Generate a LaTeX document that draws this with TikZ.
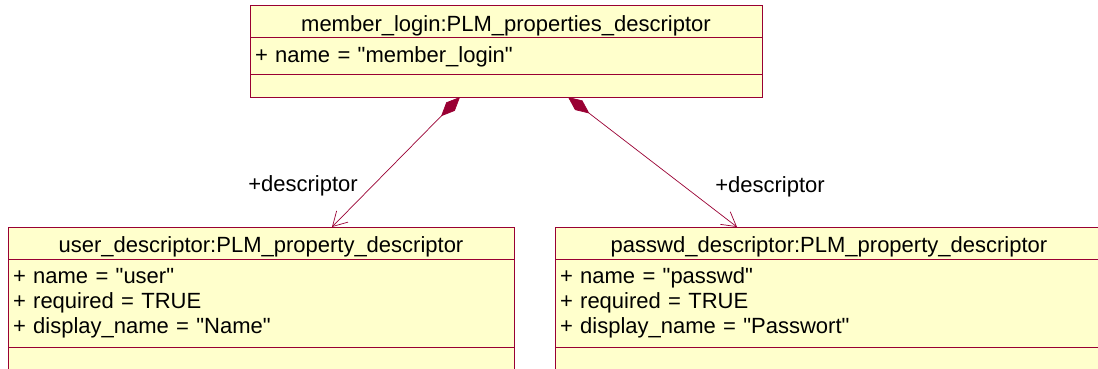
\documentclass[tikz,border=0pt]{standalone}
\usepackage{fontspec}
\setmainfont{Liberation Sans}
\usetikzlibrary{arrows.meta, positioning}
\definecolor{umlred}{RGB}{153,0,51}
\definecolor{umlfill}{RGB}{255,255,204}
\newcommand{\quoted}[1]{\textquotedbl#1\textquotedbl}

\begin{document}
\begin{tikzpicture}[
    x=1pt, y=-1pt,
    font=\fontsize{22}{25}\selectfont,
    node distance=0pt,
    compart/.style={draw=umlred, fill=umlfill, line width=1pt, inner xsep=5pt, inner ysep=0pt, outer sep=0pt, align=left},
    title/.style={compart, align=center, text height=21pt, text depth=2pt},
    assoc/.style={draw=umlred, line width=0.7pt, {Diamond[length=27pt, width=12pt]}-{Straight Barb[length=14pt, width=16pt]}}
]
\useasboundingbox (0,0) rectangle (1098,369);

% member_login
\node[title, text width=502pt, minimum height=32pt, anchor=north west] (login-title) at (250,6) {member\_login:PLM\_properties\_descriptor};
\node[compart, text width=502pt, minimum height=37pt, below=of login-title] (login-attr) {+ name = \quoted{member\_login}};
\node[compart, text width=502pt, minimum height=22pt, below=of login-attr] (login-ops) {};

% user_descriptor
\node[title, text width=496pt, minimum height=32pt, anchor=north west] (user-title) at (8,227) {user\_descriptor:PLM\_property\_descriptor};
\node[compart, text width=496pt, minimum height=88pt, below=of user-title] (user-attr) {+ name = \quoted{user}\\+ required = TRUE\\+ display\_name = \quoted{Name}};
\node[compart, text width=496pt, minimum height=30pt, below=of user-attr] (user-ops) {};

% passwd_descriptor
\node[title, text width=538pt, minimum height=32pt, anchor=north west] (passwd-title) at (555,227) {passwd\_descriptor:PLM\_property\_descriptor};
\node[compart, text width=538pt, minimum height=88pt, below=of passwd-title] (passwd-attr) {+ name = \quoted{passwd}\\+ required = TRUE\\+ display\_name = \quoted{Passwort}};
\node[compart, text width=538pt, minimum height=30pt, below=of passwd-attr] (passwd-ops) {};

% role names
\node (user-role) at (303,186) {+descriptor};
\node (passwd-role) at (770,187) {+descriptor};

\draw[assoc] ([xshift=-46pt]login-ops.south) -- ([xshift=71pt]user-title.north);
\draw[assoc] ([xshift=62pt]login-ops.south) -- ([xshift=-92pt]passwd-title.north);
\end{tikzpicture}
\end{document}
